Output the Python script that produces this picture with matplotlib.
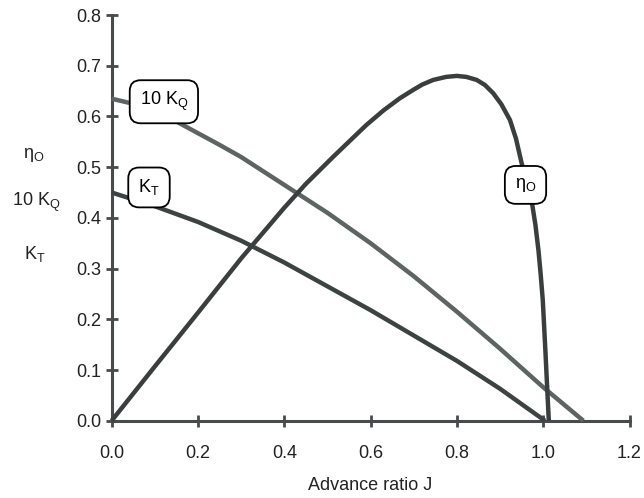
import matplotlib
matplotlib.use('Agg')
import matplotlib.pyplot as plt

plt.rcParams.update({
    'font.family': ['Liberation Sans', 'DejaVu Sans'],
    'font.size': 13,
    'mathtext.fontset': 'custom',
    'mathtext.rm': 'Liberation Sans',
    'mathtext.it': 'Liberation Sans:italic',
})

# open water curves
J_kt = [0.0, 0.1, 0.2, 0.3, 0.4, 0.5, 0.6, 0.7, 0.8, 0.9, 1.004]
kt = [0.45, 0.423, 0.392, 0.355, 0.312, 0.265, 0.218, 0.168, 0.118, 0.063, 0.0]

J_kq = [0.0, 0.05, 0.1, 0.15, 0.2, 0.25, 0.3, 0.4, 0.5, 0.6, 0.7, 0.8, 0.9, 1.0, 1.093]
kq10 = [0.635, 0.625, 0.61, 0.59, 0.567, 0.544, 0.52, 0.465, 0.41, 0.35, 0.285, 0.215, 0.142, 0.066, 0.0]

J_eta = [0.0, 0.1, 0.2, 0.3, 0.4, 0.45, 0.514, 0.59, 0.63, 0.668, 0.70, 0.72, 0.745, 0.775,
         0.80, 0.822, 0.846, 0.865, 0.884, 0.903, 0.923, 0.937, 0.95, 0.962, 0.973, 0.982,
         0.989, 0.994, 0.999, 1.005, 1.0095, 1.013]
eta = [0.0, 0.107, 0.213, 0.32, 0.42, 0.467, 0.521, 0.583, 0.612, 0.636, 0.653, 0.663, 0.672, 0.678,
       0.680, 0.678, 0.672, 0.662, 0.646, 0.624, 0.593, 0.556, 0.508, 0.472, 0.435, 0.386,
       0.336, 0.29, 0.238, 0.139, 0.06, 0.0]

axis_col = '#474b4b'
text_col = '#222222'

fig = plt.figure(figsize=(6.44, 4.98), dpi=100)
ax = fig.add_axes([0.1734, 0.1552, 0.8041, 0.8146])

ax.plot(J_kq, kq10, color='#5e6363', lw=3.2, clip_on=False, solid_capstyle='butt', zorder=3)
ax.plot(J_kt, kt, color='#3d4343', lw=3.2, clip_on=False, solid_capstyle='butt', zorder=3)
ax.plot(J_eta, eta, color='#3a3e3e', lw=3.2, clip_on=False, solid_capstyle='butt', zorder=4)

ax.set_xlim(0, 1.2)
ax.set_ylim(0, 0.8)
ax.set_xticks([0.0, 0.2, 0.4, 0.6, 0.8, 1.0, 1.2])
ax.set_yticks([0.0, 0.1, 0.2, 0.3, 0.4, 0.5, 0.6, 0.7, 0.8])
ax.xaxis.set_major_formatter(matplotlib.ticker.FormatStrFormatter('%.1f'))
ax.yaxis.set_major_formatter(matplotlib.ticker.FormatStrFormatter('%.1f'))

for s in ['top', 'right']:
    ax.spines[s].set_visible(False)
for s in ['left', 'bottom']:
    ax.spines[s].set_color(axis_col)
    ax.spines[s].set_linewidth(2.2)
ax.tick_params(direction='inout', length=9, width=2, color=axis_col,
               labelsize=13, labelcolor=text_col)
ax.tick_params(axis='x', pad=13)
ax.tick_params(axis='y', pad=3)

ax.set_xlabel('Advance ratio J', fontsize=13, color=text_col, labelpad=11)

box = dict(boxstyle='round,pad=0.55,rounding_size=0.6', fc='white', ec='black', lw=1.3)
ax.text(0.121, 0.629, r'10 K$_\mathrm{Q}$', ha='center', va='center', bbox=box, zorder=6)
ax.text(0.0865, 0.46, r'K$_\mathrm{T}$', ha='center', va='center', bbox=box, zorder=6)
ax.text(0.959, 0.465, r'η$_\mathrm{O}$', ha='center', va='center', bbox=box, zorder=6)

# stacked y label on the left
fig.text(0.053, 0.689, r'η$_\mathrm{O}$', ha='center', va='center', color=text_col)
fig.text(0.057, 0.594, r'10 K$_\mathrm{Q}$', ha='center', va='center', color=text_col)
fig.text(0.054, 0.49, r'K$_\mathrm{T}$', ha='center', va='center', color=text_col)

fig.savefig('out.png', dpi=100, facecolor='white')
